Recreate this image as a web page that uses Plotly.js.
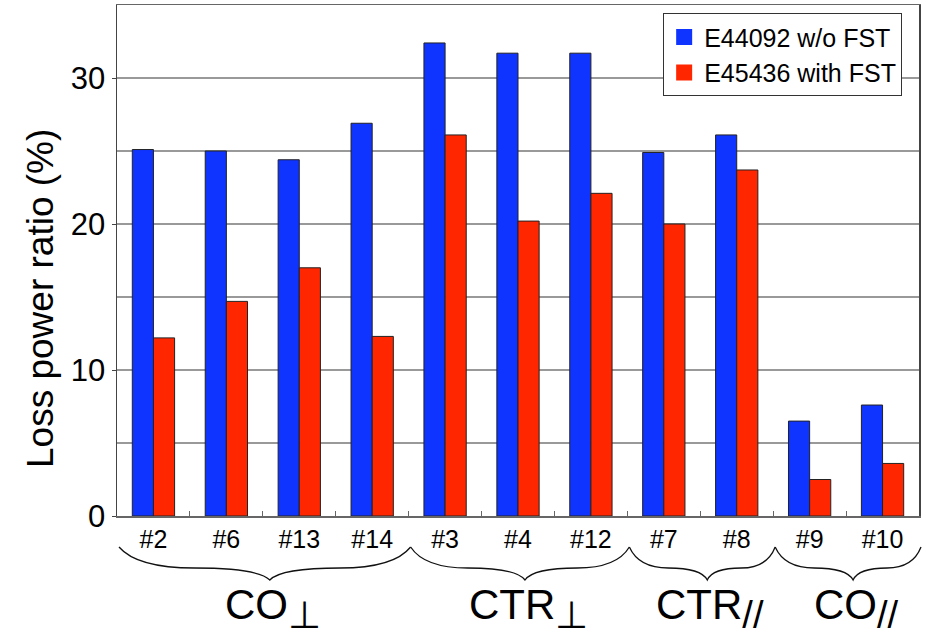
<!DOCTYPE html>
<html>
<head>
<meta charset="utf-8">
<script src="https://cdn.plot.ly/plotly-3.0.1.min.js"></script>
<style>html,body{margin:0;padding:0;background:#fff;}#chart{width:926px;height:635px;}</style>
</head>
<body>
<div id="chart"></div>
<script>
var categories = ['#2', '#6', '#13', '#14', '#3', '#4', '#12', '#7', '#8', '#9', '#10'];
var withoutFST = [25.1, 25.0, 24.4, 26.9, 32.4, 31.7, 31.7, 24.9, 26.1, 6.5, 7.6];
var withFST = [12.2, 14.7, 17.0, 12.3, 26.1, 20.2, 22.1, 20.0, 23.7, 2.5, 3.6];
var seriesNames = ['E44092 w/o FST', 'E45436 with FST'];
var groupNames = ['CO', 'CTR', 'CTR', 'CO'];
var groupSubs = ['\u22A5', '\u22A5', '//', '//'];
var groupStarts = [0, 4, 7, 9];
var groupEnds = [4, 7, 9, 11];
var yTitle = 'Loss power ratio (%)';

var BLUE = '#1034FF', RED = '#FF2600';
var FONT = 'Liberation Sans, Arial, sans-serif';

var traces = [
  {type: 'bar', x: categories, y: withoutFST, name: seriesNames[0], showlegend: false,
   marker: {color: BLUE, line: {color: '#222', width: 1}}},
  {type: 'bar', x: categories, y: withFST, name: seriesNames[1], showlegend: false,
   marker: {color: RED, line: {color: '#222', width: 1}}},
  {type: 'scatter', mode: 'markers', x: [null], y: [null], name: seriesNames[0],
   marker: {symbol: 'square', size: 16, color: BLUE}},
  {type: 'scatter', mode: 'markers', x: [null], y: [null], name: seriesNames[1],
   marker: {symbol: 'square', size: 16, color: RED}}
];

var plotW = 802, plotH = 511, n = categories.length;
function py(px) { return -px / plotH; }   // px below the x axis
var shapes = [], annotations = [];
for (var g = 0; g < groupStarts.length; g++) {
  var x0 = groupStarts[g] / n + 2 / plotW;
  var x1 = groupEnds[g] / n + 2 / plotW;
  var xm = (x0 + x1) / 2 + 5 / plotW;
  var h0 = xm - x0, h1 = x1 - xm;
  var yt = py(31), yf = py(52), yd = py(64);
  var p = 'M' + x0 + ',' + yt +
    ' Q' + (x0 + 0.12 * h0) + ',' + yf + ' ' + (x0 + 0.5 * h0) + ',' + yf +
    ' Q' + (xm - 0.08 * h0) + ',' + yf + ' ' + xm + ',' + yd +
    ' Q' + (xm + 0.08 * h1) + ',' + yf + ' ' + (xm + 0.5 * h1) + ',' + yf +
    ' Q' + (x1 - 0.12 * h1) + ',' + yf + ' ' + x1 + ',' + yt;
  shapes.push({type: 'path', xref: 'paper', yref: 'paper', path: p,
               line: {color: '#111', width: 1.3}});
  annotations.push({xref: 'paper', yref: 'paper', x: xm + 3 / plotW, y: py(92),
    xanchor: 'center', yanchor: 'middle', showarrow: false,
    text: groupNames[g] + '<sub><span style="font-size:38px">' + groupSubs[g] + '</span></sub>',
    font: {family: FONT, size: 42, color: '#000'}});
}
annotations.push({xref: 'paper', yref: 'paper', x: -77 / plotW, y: (516 - 299) / plotH,
  xanchor: 'center', yanchor: 'middle', textangle: -90, showarrow: false, text: yTitle,
  font: {family: FONT, size: 37, color: '#000'}});

var layout = {
  width: 926, height: 635,
  margin: {l: 117, r: 7, t: 5, b: 119},
  paper_bgcolor: '#fff', plot_bgcolor: '#fff',
  font: {family: FONT, color: '#000'},
  barmode: 'group', bargap: 0.42, bargroupgap: 0,
  showlegend: true,
  legend: {x: 0.681, y: 0.984, xanchor: 'left', yanchor: 'top',
           bgcolor: '#fff', bordercolor: '#333', borderwidth: 1,
           font: {family: FONT, size: 25, color: '#000'}},
  xaxis: {type: 'category', showline: true, linecolor: '#666', linewidth: 1.5, mirror: true,
          ticks: 'inside', tickson: 'boundaries', ticklen: 5, tickcolor: '#666',
          tickfont: {family: FONT, size: 25, color: '#000'}, showgrid: false, zeroline: false},
  yaxis: {range: [0, 35], dtick: 10, tick0: 0, showline: true, linecolor: '#444', linewidth: 1.5,
          mirror: true, ticks: 'outside', ticklen: 4, tickcolor: '#444',
          tickfont: {family: FONT, size: 31, color: '#000'},
          showgrid: true, gridcolor: '#999', gridwidth: 1.5, zeroline: false,
          minor: {dtick: 5, showgrid: true, gridcolor: '#999', gridwidth: 1.5}},
  shapes: shapes,
  annotations: annotations
};

Plotly.newPlot('chart', traces, layout, {displayModeBar: false, staticPlot: true});
</script>
</body>
</html>
